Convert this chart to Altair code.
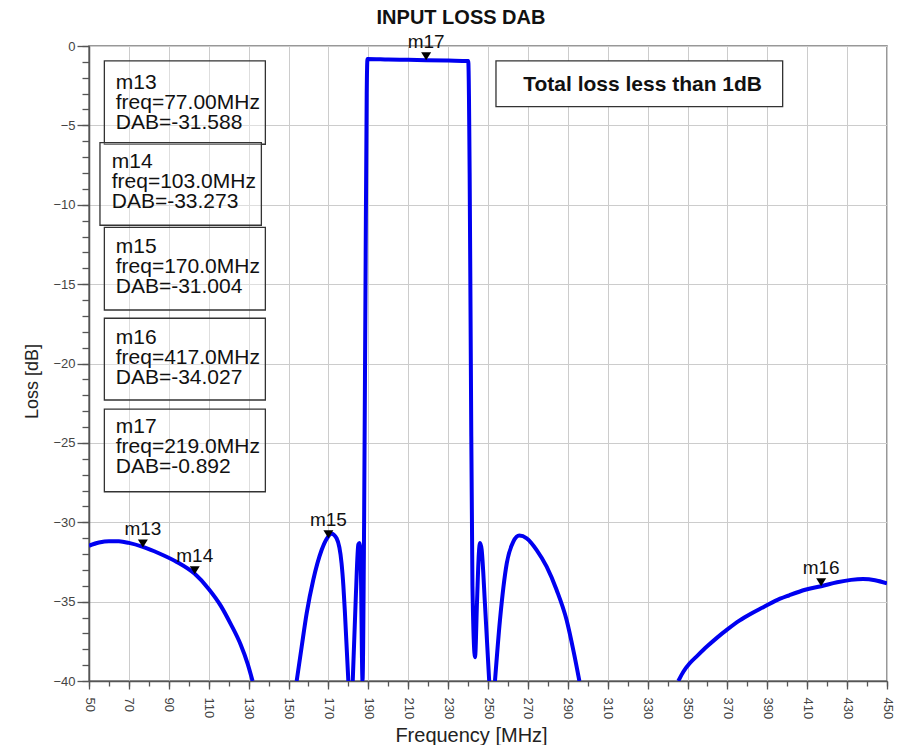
import altair as alt
import pandas as pd

# ---------------- data ----------------
# curve pieces (frequency in MHz, loss in dB); pieces are separated where the
# trace leaves the visible range below -40 dB
lobe1_freq = [50, 55, 60, 65, 70, 77, 85, 94, 103, 110, 116, 121, 126, 129.5, 132]
lobe1_loss = [-31.48, -31.28, -31.19, -31.2, -31.3, -31.55, -31.95, -32.5, -33.25,
              -34.2, -35.25, -36.4, -37.7, -38.9, -40.0]

lobe2_freq = [154.1, 156.6, 159.1, 162.4, 166.6, 169.1, 171.6, 174.1, 176.6, 177.5, 178.3, 180.0]
lobe2_loss = [-40.0, -37.84, -35.74, -33.64, -31.75, -31.05, -30.72, -31.01, -32.59,
              -34.0, -35.74, -40.0]

band_freq = [182.2, 183.8, 185.0, 185.6, 186.2, 187.1, 187.9, 188.6, 189.2, 189.6,
             200, 210, 219, 230, 240.1, 240.8, 241.4, 242.2, 243.5, 244.5, 245.4,
             246.0, 246.8, 248.5, 250.6]
band_loss = [-40.0, -34.5, -31.4, -31.3, -32.5, -40.0, -30.0, -15.0, -3.0, -0.82,
             -0.85, -0.87, -0.89, -0.92, -0.95, -8.0, -20.0, -34.0, -38.5, -35.0, -32.0,
             -31.3, -31.7, -35.2, -40.0]

lobe3_freq = [253.5, 256.0, 259.4, 262.7, 265.7, 269.4, 274.4, 279.4, 284.4, 289.4, 293.0, 295.8]
lobe3_loss = [-40.0, -36.16, -32.59, -31.22, -30.84, -31.01, -31.75, -32.8, -34.27,
              -36.16, -38.2, -40.0]

lobe4_freq = [345.4, 348, 351, 355, 360, 365, 370, 376, 382, 388, 394, 401, 409, 417,
              425, 432, 438, 444, 450]
lobe4_loss = [-40.0, -39.4, -38.9, -38.4, -37.8, -37.25, -36.75, -36.2, -35.75, -35.35,
              -34.95, -34.6, -34.25, -34.03, -33.78, -33.63, -33.58, -33.65, -33.85]

marker_names = ["m13", "m14", "m15", "m16", "m17"]
marker_freq = [77.0, 103.0, 170.0, 417.0, 219.0]
marker_dab = [-31.588, -33.273, -31.004, -34.027, -0.892]

chart_title = "INPUT LOSS DAB"
note_text = "Total loss less than 1dB"

x_major = list(range(50, 451, 20))
x_minor = list(range(50, 451, 10))
y_major = list(range(-40, 1, 5))
y_minor = list(range(-40, 1, 1))

# ---------------- tables built from the arrays ----------------
pieces = [(lobe1_freq, lobe1_loss), (lobe2_freq, lobe2_loss), (band_freq, band_loss),
          (lobe3_freq, lobe3_loss), (lobe4_freq, lobe4_loss)]
rows = []
for i, (fs, ls) in enumerate(pieces):
    for f, l in zip(fs, ls):
        rows.append({"piece": i, "freq": f, "loss": l})
curve = pd.DataFrame(rows)


def freq_label(v):
    digits = 4 - len(str(int(v)))
    return f"{v:.{digits}f}MHz"


markers = pd.DataFrame({
    "name": marker_names,
    "freq": marker_freq,
    "loss": marker_dab,
})
box_texts = [f"{n}\nfreq={freq_label(f)}\nDAB={d:.3f}"
             for n, f, d in zip(marker_names, marker_freq, marker_dab)]

# annotation box layout (in axis units), one per marker, top to bottom
boxes_df = pd.DataFrame({
    "freq": [57.7, 55.5, 57.7, 57.7, 57.7],
    "freq2": [138.4, 136.4, 138.4, 138.4, 138.4],
    "loss": [-0.94, -6.09, -11.42, -17.15, -22.87],
    "loss2": [-6.19, -11.29, -16.63, -22.30, -28.08],
})
box_text_df = pd.DataFrame({
    "freq": [63.4, 61.4, 63.4, 63.4, 63.4],
    "loss": [-2.73, -7.70, -13.06, -18.79, -24.40],
    "text": box_texts,
})

note_box_df = pd.DataFrame({"freq": [254.0], "freq2": [397.7], "loss": [-0.94], "loss2": [-3.82]})
note_text_df = pd.DataFrame({"freq": [327.5], "loss": [-2.83], "text": [note_text]})
title_df = pd.DataFrame({"text": [chart_title]})

FONT = "Liberation Sans"
AX = "#555555"

xscale = alt.Scale(domain=[50, 450], nice=False, zero=False)
yscale = alt.Scale(domain=[-40, 0], nice=False, zero=False)

x_axis = alt.Axis(
    orient="bottom", values=x_major, labelAngle=90,
    labelFont=FONT, labelFontSize=13, labelColor="#444444",
    labelPadding=8, labelFlush=False, labelOverlap=False,
    tickSize=8, tickColor=AX, tickWidth=1.3,
    grid=True, gridColor="#cccccc", gridWidth=1,
    domainColor=AX, domainWidth=1.5,
    title="Frequency [MHz]", titleFont=FONT, titleFontSize=20, titleFontWeight="normal",
    titleColor="#222222", titleX=382, titleY=60, titleBaseline="alphabetic",
)
x_axis_minor = alt.Axis(
    orient="bottom", values=x_minor, labels=False, grid=False, domain=False,
    tickSize=5, tickColor=AX, tickWidth=1.3, title=None,
)

y_axis = alt.Axis(
    orient="left", values=y_major,
    labelFont=FONT, labelFontSize=13, labelColor="#444444",
    labelPadding=2, labelFlush=False, labelOverlap=False,
    tickSize=12, tickColor=AX, tickWidth=1.3,
    grid=True, gridColor="#cccccc", gridWidth=1,
    domainColor=AX, domainWidth=1.5,
    title="Loss [dB]", titleFont=FONT, titleFontSize=18, titleFontWeight="normal",
    titleColor="#222222", titleX=-57, titleY=335, titleBaseline="middle",
)
y_axis_minor = alt.Axis(
    orient="left", values=y_minor, labels=False, grid=False, domain=False,
    tickSize=7, tickColor=AX, tickWidth=1.3, title=None,
)


def X(axis=None):
    return alt.X("freq:Q", scale=xscale, axis=axis, title=None)


def Y(axis=None):
    return alt.Y("loss:Q", scale=yscale, axis=axis, title=None)


line = alt.Chart(curve).mark_line(
    color="#0000f0", strokeWidth=4, clip=True, interpolate="monotone"
).encode(
    x=alt.X("freq:Q", scale=xscale, axis=x_axis, title="Frequency [MHz]"),
    y=alt.Y("loss:Q", scale=yscale, axis=y_axis, title="Loss [dB]"),
    detail="piece:N", order="freq:Q",
)

boxes = alt.Chart(boxes_df).mark_rect(
    fill="white", fillOpacity=0.35, stroke="#333333", strokeWidth=1.3
).encode(x=X(), x2="freq2:Q", y=Y(), y2="loss2:Q")

box_text = alt.Chart(box_text_df).mark_text(
    align="left", baseline="alphabetic", lineBreak="\n", lineHeight=20,
    font=FONT, fontSize=21, color="#111111"
).encode(x=X(), y=Y(), text="text:N")

note_box = alt.Chart(note_box_df).mark_rect(
    fill="white", fillOpacity=1, stroke="#333333", strokeWidth=1.3
).encode(x=X(), x2="freq2:Q", y=Y(), y2="loss2:Q")

note_label = alt.Chart(note_text_df).mark_text(
    align="center", baseline="alphabetic", font=FONT, fontSize=21,
    fontWeight="bold", color="#111111"
).encode(x=X(), y=Y(), text="text:N")

tri = alt.Chart(markers).mark_point(
    shape="M-1,-1.6L1,-1.6L0,0Z", filled=True, size=100, color="#000000",
    opacity=1, strokeWidth=0
).encode(x=X(x_axis_minor), y=Y(y_axis_minor))

tri_label = alt.Chart(markers).mark_text(
    align="center", baseline="alphabetic", dy=-12, font=FONT, fontSize=19,
    color="#111111"
).encode(x=X(), y=Y(), text="name:N")

# chart title drawn as a text mark above the plot area
title_mark = alt.Chart(title_df).mark_text(
    align="center", baseline="alphabetic", font=FONT, fontSize=20,
    fontWeight="bold", color="#111111"
).encode(x=alt.value(372), y=alt.value(-22), text="text:N")

chart = alt.layer(
    line, boxes, box_text, note_box, note_label, tri, tri_label, title_mark
).resolve_axis(
    x="independent", y="independent"
).resolve_scale(
    x="shared", y="shared"
).properties(
    width=798, height=635,
    autosize=alt.AutoSizeParams(type="none"),
    padding={"left": 81, "top": 38, "right": 8, "bottom": 70},
    background="white",
).configure_view(
    stroke="#777777", strokeWidth=1.5
)

chart.save("out.html", embed_options={"renderer": "svg", "actions": False})
